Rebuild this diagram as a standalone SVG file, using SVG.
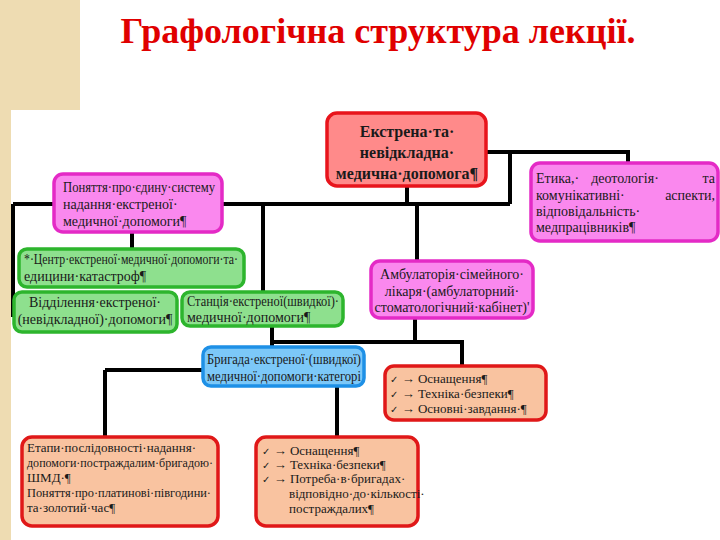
<svg xmlns="http://www.w3.org/2000/svg" width="720" height="540" viewBox="0 0 720 540">
<style>
.t{font-family:"Liberation Serif","DejaVu Serif",serif;font-size:14px;fill:#1a1a1a}
.s{font-size:13px}
.b{font-weight:bold;font-size:16px}
.c{text-anchor:middle}
.e{text-anchor:end}
.ck{font-family:"DejaVu Sans",sans-serif;font-size:10px}
.red{fill:#ff8a8a;stroke:#e8141c;stroke-width:3.5}
.mag{fill:#fa88ee;stroke:#e42ac6;stroke-width:3.5}
.grn{fill:#8ee08e;stroke:#2db52d;stroke-width:3.5}
.blu{fill:#7cc8f8;stroke:#1e90e6;stroke-width:3.5}
.pch{fill:#f9c3a0;stroke:#e01818;stroke-width:3.5}
.ln{fill:none;stroke:#000;stroke-width:4}
</style>
<rect x="0" y="0" width="720" height="540" fill="#fff"/>
<rect x="0" y="0" width="80" height="110" fill="#eedcb2"/>
<rect x="0" y="110" width="11" height="430" fill="#eedcb2"/>
<text x="378" y="43" font-family="Liberation Serif,serif" font-weight="bold" font-size="36" fill="#e00000" text-anchor="middle">Графологічна структура лекції.</text>
<g id="connectors" class="ln">
<path d="M13,204 H510"/>
<path d="M13,204 V317"/>
<path d="M486,152 H628 V163"/>
<path d="M510,152 V204"/>
<path d="M407,186 V204"/>
<path d="M417,204 V261"/>
<path d="M132,232 V249"/>
<path d="M263,204 V292"/>
<path d="M415,318 V342"/>
<path d="M272,326 V347"/>
<path d="M272,342 H462 V366"/>
<path d="M105,370 H203"/>
<path d="M105,370 V437"/>
<path d="M337,386 V437"/>
</g>
<g id="n1">
<rect class="red" x="327" y="113" width="159" height="73" rx="10"/>
<text class="t b c" x="407" y="137">Екстрена·та·</text>
<text class="t b c" x="407" y="158">невідкладна·</text>
<text class="t b c" x="407" y="179">медична·допомога¶</text>
</g>
<g id="n2">
<rect class="mag" x="54" y="174" width="168" height="58" rx="9"/>
<text class="t" x="63" y="192" textLength="152" lengthAdjust="spacingAndGlyphs">Поняття·про·єдину·систему</text>
<text class="t" x="63" y="209">надання·екстреної·</text>
<text class="t" x="63" y="226">медичної·допомоги¶</text>
</g>
<g id="n3">
<rect class="mag" x="531" y="163" width="187" height="78" rx="9"/>
<text class="t" x="536" y="183">Етика,·</text>
<text class="t c" x="625" y="183">деотологія·</text>
<text class="t e" x="715" y="183">та</text>
<text class="t" x="536" y="200">комунікативні·</text>
<text class="t e" x="715" y="200">аспекти,</text>
<text class="t" x="536" y="216">відповідальність·</text>
<text class="t" x="536" y="232">медпрацівників¶</text>
</g>
<g id="n4">
<rect class="grn" x="19" y="249" width="225" height="38" rx="8"/>
<text class="t" x="24" y="264" textLength="214" lengthAdjust="spacingAndGlyphs">*·Центр·екстреної·медичної·допомоги·та·</text>
<text class="t" x="24" y="281">едицини·катастроф¶</text>
</g>
<g id="n5">
<rect class="grn" x="14" y="292" width="163" height="40" rx="8"/>
<text class="t c" x="95" y="307">Відділення·екстреної·</text>
<text class="t c" x="95" y="324">(невідкладної)·допомоги¶</text>
</g>
<g id="n6">
<rect class="grn" x="182" y="292" width="161" height="34" rx="8"/>
<text class="t" x="187" y="306" textLength="152" lengthAdjust="spacingAndGlyphs">Станція·екстреної(швидкої)·</text>
<text class="t" x="187" y="322">медичної·допомоги¶</text>
</g>
<g id="n7">
<rect class="mag" x="371" y="261" width="162" height="57" rx="9"/>
<text class="t c" x="452" y="279">Амбулаторія·сімейного·</text>
<text class="t c" x="452" y="296">лікаря·(амбулаторний·</text>
<text class="t c" x="452" y="312">стоматологічний·кабінет)'</text>
</g>
<g id="n8">
<rect class="blu" x="203" y="347" width="161" height="39" rx="8"/>
<text class="t" x="207" y="364" textLength="154" lengthAdjust="spacingAndGlyphs">Бригада·екстреної·(швидкої)</text>
<text class="t" x="207" y="381" textLength="154" lengthAdjust="spacingAndGlyphs">медичної·допомоги·категорі</text>
</g>
<g id="n9">
<rect class="pch" x="385" y="366" width="161" height="54" rx="9"/>
<text class="t s" x="390" y="383"><tspan class="ck">✓</tspan> → Оснащення¶</text>
<text class="t s" x="390" y="398"><tspan class="ck">✓</tspan> → Техніка·безпеки¶</text>
<text class="t s" x="390" y="413"><tspan class="ck">✓</tspan> → Основні·завдання·¶</text>
</g>
<g id="n10">
<rect class="pch" x="22" y="437" width="196" height="89" rx="10"/>
<text class="t s" x="27" y="452">Етапи·послідовності·надання·</text>
<text class="t s" x="27" y="467" textLength="186" lengthAdjust="spacingAndGlyphs">допомоги·постраждалим·бригадою·</text>
<text class="t s" x="27" y="482">ШМД·¶</text>
<text class="t s" x="27" y="497" textLength="184" lengthAdjust="spacingAndGlyphs">Поняття·про·платинові·півгодини·</text>
<text class="t s" x="27" y="512">та·золотий·час¶</text>
</g>
<g id="n11">
<rect class="pch" x="256" y="437" width="162" height="89" rx="10"/>
<text class="t s" x="262" y="455"><tspan class="ck">✓</tspan> → Оснащення¶</text>
<text class="t s" x="262" y="469"><tspan class="ck">✓</tspan> → Техніка·безпеки¶</text>
<text class="t s" x="262" y="483"><tspan class="ck">✓</tspan> → Потреба·в·бригадах·</text>
<text class="t s" x="289" y="498">відповідно·до·кількості·</text>
<text class="t s" x="289" y="513">постраждалих¶</text>
</g>
</svg>
